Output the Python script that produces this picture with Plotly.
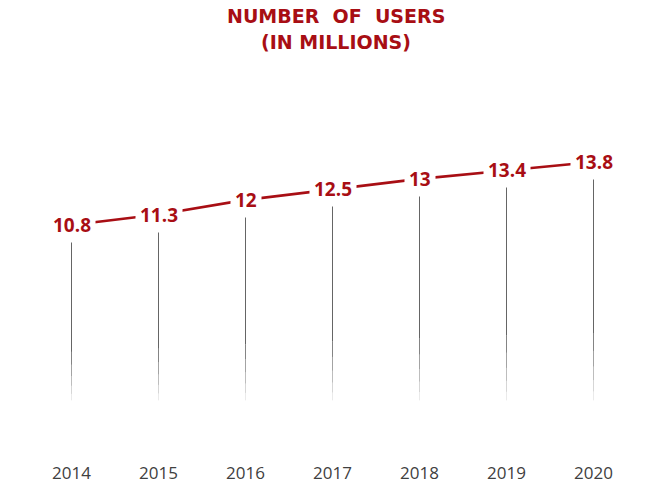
import plotly.graph_objects as go

years = ["2014", "2015", "2016", "2017", "2018", "2019", "2020"]
users = [10.8, 11.3, 12, 12.5, 13, 13.4, 13.8]
labels = ["10.8", "11.3", "12", "12.5", "13", "13.4", "13.8"]
title_lines = ["NUMBER  OF  USERS", "(IN MILLIONS)"]

RED = "#A80E14"
drop_floor = 2.45    # bottom of the drop lines (data units)
drop_gap = 0.66      # gap below label (data units)

fig = go.Figure()

idx = list(range(len(years)))

# drop lines, split into fading segments (style only)
fades = [(0.0, 0.70, 0.75), (0.70, 0.78, 0.6), (0.78, 0.85, 0.45),
         (0.85, 0.91, 0.32), (0.91, 0.96, 0.2), (0.96, 1.0, 0.1)]
for f0, f1, op in fades:
    xs, ys = [], []
    for i, v in zip(idx, users):
        top = v - drop_gap
        span = top - drop_floor
        xs += [i, i, None]
        ys += [top - span * f0, top - span * f1, None]
    fig.add_trace(go.Scatter(x=xs, y=ys, mode="lines",
                             line=dict(color=f"rgba(50,50,50,{op})", width=1),
                             hoverinfo="skip", showlegend=False))

fig.add_trace(go.Scatter(x=idx, y=users, mode="lines",
                         line=dict(color=RED, width=2.6),
                         showlegend=False))

for i, v, t in zip(idx, users, labels):
    fig.add_annotation(x=i, y=v, xref="x", yref="y", text=f"<b>{t}</b>",
                       showarrow=False, bgcolor="white", borderpad=4,
                       font=dict(family="Open Sans", size=19, color=RED))

for k, (line, ypix) in enumerate(zip(title_lines, [17, 44])):
    fig.add_annotation(x=327 / 646, xref="paper", xanchor="center",
                       y=1 - ypix / 486, yref="paper", yanchor="middle",
                       text=f"<b>{line}</b>", showarrow=False,
                       font=dict(family="DejaVu Sans", size=19, color=RED))

fig.update_layout(
    width=646, height=486,
    paper_bgcolor="white", plot_bgcolor="white",
    margin=dict(l=28, r=9, t=0, b=25, autoexpand=False),
    xaxis=dict(range=[-0.5, 6.5], showgrid=False,
               zeroline=False, showline=False, ticks="",
               tickmode="array", tickvals=idx, ticktext=years,
               tickfont=dict(family="Open Sans", size=17, color="#404040")),
    yaxis=dict(range=[-0.44, 21.52], visible=False, showgrid=False),
)

fig.write_html("out.html", config={"displayModeBar": False},
               post_script="document.body.style.margin='0';document.body.style.overflow='hidden';")
